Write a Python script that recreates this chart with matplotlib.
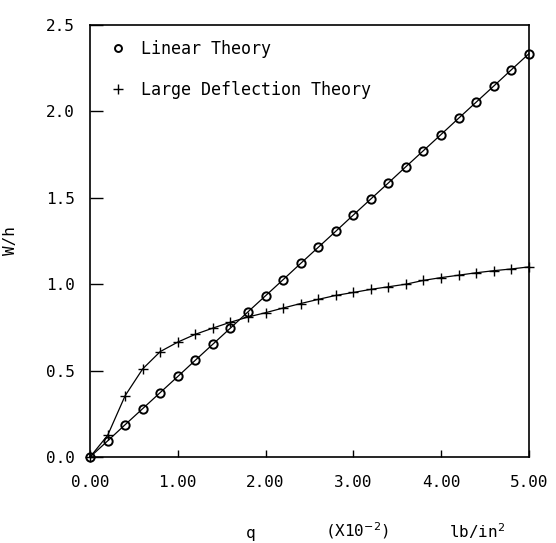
import matplotlib
matplotlib.use("Agg")
import matplotlib.pyplot as plt
from matplotlib.lines import Line2D

q = [0.0, 0.2, 0.4, 0.6, 0.8, 1.0, 1.2, 1.4, 1.6, 1.8, 2.0, 2.2, 2.4, 2.6,
     2.8, 3.0, 3.2, 3.4, 3.6, 3.8, 4.0, 4.2, 4.4, 4.6, 4.8, 5.0]
linear = [0.0, 0.093, 0.187, 0.28, 0.373, 0.466, 0.56, 0.653, 0.746, 0.84,
          0.933, 1.026, 1.12, 1.213, 1.306, 1.40, 1.493, 1.586, 1.68, 1.773,
          1.866, 1.96, 2.053, 2.146, 2.24, 2.333]
large = [0.0, 0.125, 0.355, 0.51, 0.61, 0.665, 0.71, 0.746, 0.78, 0.81,
         0.835, 0.862, 0.888, 0.912, 0.935, 0.952, 0.97, 0.985, 1.0, 1.022,
         1.038, 1.052, 1.066, 1.078, 1.088, 1.10]
xticks = [0, 1, 2, 3, 4, 5]
xticklabels = ["0.00", "1.00", "2.00", "3.00", "4.00", "5.00"]
yticks = [0.0, 0.5, 1.0, 1.5, 2.0, 2.5]
yticklabels = ["0.0", "0.5", "1.0", "1.5", "2.0", "2.5"]

plt.rcParams['font.family'] = ['DejaVu Sans Mono']

fig = plt.figure(figsize=(5.56, 5.43), dpi=100)
ax = fig.add_axes([0.162, 0.1584, 0.951 - 0.162, 0.954 - 0.1584])

ax.plot(q, linear, color='black', lw=0.9, marker='o', ms=6, mfc='none',
        mec='black', mew=1.4, clip_on=False, zorder=3)
ax.plot(q, large, color='black', lw=0.9, marker='+', ms=6.5, mew=1.0,
        clip_on=False, zorder=3)

ax.set_xlim(0, 5)
ax.set_ylim(0, 2.5)
ax.set_xticks(xticks)
ax.set_xticklabels(xticklabels)
ax.set_yticks(yticks)
ax.set_yticklabels(yticklabels)
ax.tick_params(axis='both', direction='in', labelsize=11.5, color='black')
ax.tick_params(axis='y', length=9, width=1, pad=11)
ax.tick_params(axis='x', length=5, width=1, pad=13)
for s in ax.spines.values():
    s.set_linewidth(1.2)

ax.set_ylabel("W/h", fontsize=11.5, labelpad=20)

fig.text(0.45, 0.004, "q", fontsize=11.5, ha='center', va='bottom')
fig.text(0.642, 0.004, r"(X10$^{-2}$)", fontsize=11.5, ha='center', va='bottom')
fig.text(0.858, 0.004, r"lb/in$^{2}$", fontsize=11.5, ha='center', va='bottom')

handles = [Line2D([], [], linestyle='none', marker='o', ms=5, mfc='none',
                  mec='black', mew=1.4),
           Line2D([], [], linestyle='none', marker='+', ms=7, mew=1.0,
                  color='black')]
ax.legend(handles, ["Linear Theory", "Large Deflection Theory"],
          loc='upper left', bbox_to_anchor=(0.01, 1.0), frameon=False,
          fontsize=12, handlelength=1.0, handletextpad=0.9,
          labelspacing=1.4)

fig.savefig("out.png", dpi=100)
